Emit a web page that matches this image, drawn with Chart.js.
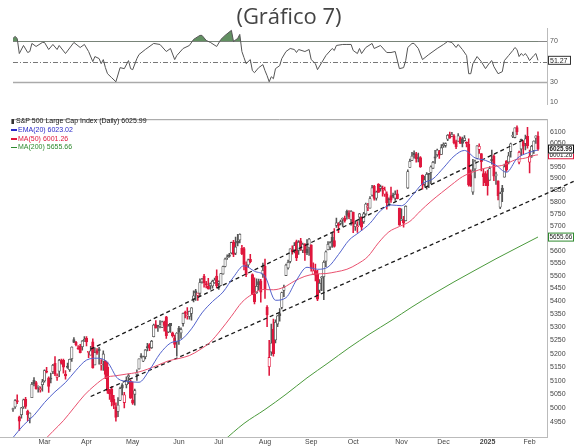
<!DOCTYPE html>
<html>
<head>
<meta charset="utf-8">
<script src="https://cdn.jsdelivr.net/npm/chart.js@4.4.1/dist/chart.umd.min.js"></script>
<style>
  html, body { margin: 0; padding: 0; background: #fff; }
  #wrap { position: relative; width: 574px; height: 446px; overflow: hidden; background: #fff;
          font-family: "Liberation Sans", Arial, sans-serif; }
  canvas { position: absolute; left: 0; }
  #rsi { top: 0; }
  #main { top: 112px; }
  #title { position: absolute; left: 0; top: 0px; width: 578px; text-align: center;
           font: 22px "Open Sans", sans-serif; color: #444; }
  .lg { position: absolute; left: 11px; font-size: 7px; line-height: 8px; white-space: nowrap; }
  .dash { display: inline-block; width: 6px; height: 1.5px; vertical-align: middle; margin-right: 1px; }
  .icon { display: inline-block; width: 2px; height: 5px; background: #333; vertical-align: middle; margin-right: 2px; border-left: 1px solid #888; }
</style>
</head>
<body>
<div id="wrap">
  <canvas id="rsi" width="574" height="112"></canvas>
  <canvas id="main" width="574" height="334"></canvas>
  <div id="title">(Gráfico 7)</div>
  <div id="legend"></div>
</div>
<script>
// daily candles, 8 Feb 2024 .. 7 Feb 2025 (index = trading day)
const opens = [4995,5004,5027,4968,4976,5004,5032,4989,4964,5038,
  5101,5093,5075,5067,5085,5099,5131,5110,5109,5133,
  5164,5112,5135,5174,5175,5124,5154,5140,5181,5253,
  5243,5220,5228,5226,5249,5258,5205,5194,5245,5158,
  5212,5218,5158,5172,5172,5150,5065,5068,5032,5005,
  4988,5028,5085,5020,5085,5115,5098,5030,5050,5123,
  5143,5188,5172,5189,5226,5234,5222,5264,5310,5303,
  5305,5299,5319,5340,5282,5315,5279,5260,5244,5297,
  5278,5314,5357,5343,5341,5353,5409,5441,5423,5431,
  5476,5499,5466,5459,5461,5460,5473,5499,5471,5462,
  5507,5537,5572,5584,5591,5635,5590,5638,5644,5610,
  5609,5544,5543,5566,5505,5429,5433,5477,5479,5506,
  5538,5377,5151,5206,5293,5252,5312,5352,5376,5442,
  5501,5531,5557,5603,5603,5637,5602,5640,5602,5627,
  5607,5612,5624,5506,5521,5507,5443,5491,5496,5558,
  5604,5616,5655,5641,5703,5709,5712,5728,5733,5762,
  5755,5727,5758,5698,5698,5737,5737,5719,5751,5778,
  5775,5829,5867,5816,5875,5859,5858,5833,5835,5814,
  5827,5831,5816,5835,5775,5723,5725,5723,5859,5947,
  5977,6009,6004,5986,5989,5913,5876,5864,5917,5925,
  5943,5992,6001,6015,6003,6040,6042,6069,6089,6081,
  6084,6058,6060,6075,6069,6063,6053,6047,5912,5842,
  5940,5985,6024,6006,5920,5920,5903,5892,5982,5994,
  5910,5890,5779,5859,5905,5975,5970,6015,6081,6076,
  6120,5969,6026,6058,6050,6082,5969,5998,6020,6073,
  6083];
const highs = [5000,5031,5048,4971,5003,5033,5039,4993,4983,5094,
  5111,5097,5081,5077,5105,5140,5149,5114,5128,5160,
  5189,5125,5179,5180,5180,5137,5165,5180,5226,5261,
  5246,5230,5235,5249,5264,5264,5208,5228,5256,5222,
  5219,5224,5178,5211,5175,5169,5068,5078,5046,5019,
  5038,5076,5089,5057,5114,5124,5102,5096,5069,5140,
  5181,5200,5191,5215,5239,5238,5250,5312,5325,5305,
  5325,5324,5324,5342,5311,5315,5282,5270,5280,5303,
  5298,5354,5362,5376,5362,5376,5441,5447,5432,5488,
  5490,5506,5478,5490,5472,5483,5491,5524,5480,5510,
  5539,5571,5584,5590,5635,5642,5656,5667,5669,5622,
  5614,5556,5567,5586,5508,5492,5488,5487,5486,5551,
  5567,5383,5250,5312,5331,5328,5345,5372,5436,5463,
  5547,5563,5608,5620,5633,5643,5641,5651,5631,5629,
  5646,5651,5624,5552,5547,5522,5485,5497,5560,5600,
  5637,5637,5671,5690,5734,5715,5725,5735,5742,5767,
  5765,5765,5758,5720,5719,5753,5739,5757,5796,5795,
  5823,5871,5871,5846,5878,5872,5867,5863,5843,5818,
  5863,5838,5847,5850,5775,5772,5741,5784,5936,5983,
  6012,6018,6012,6009,5993,5915,5910,5925,5920,5954,
  5973,6020,6026,6020,6045,6053,6053,6089,6100,6099,
  6089,6065,6093,6079,6078,6085,6057,6070,5936,5982,
  5978,6041,6049,6006,5940,5929,5935,5950,6021,6001,
  5927,5890,5842,5871,5961,5976,6012,6052,6100,6119,
  6128,6017,6069,6063,6087,6121,6022,6042,6062,6084,
  6101];
const lows = [4988,4999,5016,4920,4964,4999,4999,4955,4947,5038,
  5081,5069,5058,5058,5061,5094,5128,5057,5092,5126,
  5118,5101,5115,5161,5127,5105,5145,5134,5171,5241,
  5229,5216,5203,5213,5246,5229,5185,5194,5146,5158,
  5197,5161,5139,5138,5107,5053,5031,5008,4998,4953,
  4969,5027,5048,5001,5073,5089,5035,5013,5011,5101,
  5142,5183,5170,5180,5210,5211,5220,5263,5296,5284,
  5297,5298,5285,5257,5279,5280,5262,5223,5191,5235,
  5257,5304,5336,5331,5331,5327,5398,5403,5403,5421,
  5471,5455,5452,5447,5446,5451,5470,5452,5446,5462,
  5507,5535,5565,5574,5587,5576,5584,5620,5632,5584,
  5523,5497,5535,5551,5426,5390,5431,5444,5397,5494,
  5411,5302,5119,5193,5191,5240,5302,5323,5370,5418,
  5501,5526,5551,5586,5592,5560,5585,5602,5593,5561,
  5584,5581,5518,5505,5480,5402,5434,5441,5406,5536,
  5604,5605,5614,5615,5695,5674,5705,5699,5717,5729,
  5731,5704,5674,5683,5675,5704,5684,5712,5745,5764,
  5775,5825,5808,5808,5841,5846,5825,5824,5771,5784,
  5799,5818,5807,5813,5703,5723,5696,5722,5858,5947,
  5976,5987,5969,5970,5947,5854,5866,5854,5861,5878,
  5943,5964,5994,5985,6003,6033,6034,6062,6072,6080,
  6048,6028,6059,6051,6035,6060,6035,5867,5866,5832,
  5902,5983,6007,5932,5869,5869,5829,5891,5961,5890,
  5874,5809,5773,5802,5905,5930,5962,5991,6076,6074,
  6089,5962,6000,6003,6022,6030,5923,5990,6007,6051,
  6020];
const closes = [4998,5027,5022,4953,5001,5030,5006,4976,4982,5087,
  5089,5070,5078,5070,5096,5137,5131,5079,5105,5157,
  5124,5118,5175,5165,5150,5117,5149,5179,5225,5242,
  5234,5218,5204,5248,5254,5244,5206,5211,5147,5204,
  5202,5210,5161,5199,5123,5062,5051,5022,5011,4967,
  5011,5071,5072,5048,5100,5116,5036,5018,5064,5128,
  5181,5188,5188,5214,5223,5221,5247,5308,5297,5303,
  5308,5321,5307,5268,5305,5306,5267,5235,5278,5283,
  5291,5354,5353,5347,5361,5375,5421,5434,5432,5473,
  5487,5473,5465,5448,5469,5478,5483,5460,5475,5509,
  5537,5567,5573,5577,5634,5585,5615,5631,5667,5588,
  5545,5505,5564,5556,5427,5399,5459,5464,5436,5522,
  5447,5347,5186,5240,5200,5319,5344,5344,5434,5455,
  5543,5554,5608,5597,5621,5571,5635,5617,5626,5592,
  5592,5648,5529,5520,5503,5408,5471,5496,5554,5596,
  5626,5633,5635,5618,5714,5703,5719,5733,5722,5745,
  5738,5762,5709,5710,5700,5751,5696,5751,5792,5780,
  5815,5860,5815,5842,5841,5865,5854,5851,5797,5810,
  5808,5824,5833,5814,5705,5729,5713,5783,5929,5973,
  5996,6001,5984,5985,5949,5871,5894,5917,5917,5949,
  5969,5987,6022,5999,6032,6047,6050,6086,6075,6090,
  6053,6035,6084,6051,6051,6074,6051,5872,5867,5931,
  5974,6040,6038,5971,5907,5882,5869,5942,5975,5909,
  5918,5827,5836,5843,5950,5937,5997,6049,6086,6119,
  6101,6012,6068,6039,6071,6041,5995,6038,6061,6084,
  6026];

// moving averages (day index, value)
const emaIdx = [0,5,10,15,20,25,30,35,40,45,50,55,60,65,70,75,80,85,90,95,100,105,110,115,120,125,
  130,135,140,145,150,155,160,165,170,175,180,185,190,195,200,205,210,215,220,225,230,235,240,245,250];
const ema20 = [4895,4939,4974,5020,5059,5093,5138,5176,5183,5168,5107,5097,5094,5139,5200,5240,5252,5294,5355,5399,5436,5495,5540,5518,5498,5404,
  5414,5483,5534,5526,5535,5585,5643,5676,5712,5764,5788,5785,5826,5878,5898,5945,5995,6020,5988,5977,5956,5926,5985,6009,6022];
const ma50Idx = [4,9,14,19,24,29,34,39,44,49,54,59,64,69,74,79,84,89,94,99,104,109,114,119,124,129,
  134,139,144,149,154,159,164,169,174,179,184,189,194,199,204,209,214,219,224,229,234,239,244,249,250];
const ma50 = [4795,4839,4879,4917,4955,5001,5047,5083,5111,5118,5124,5130,5142,5157,5173,5182,5193,5215,5244,5290,5342,5396,5428,5446,5445,5455,
  5479,5498,5507,5509,5516,5526,5547,5577,5632,5677,5699,5720,5763,5803,5839,5874,5907,5927,5942,5950,5958,5979,5987,6000,6001];
const ma200Idx = [100,110,120,130,140,150,160,170,180,190,200,210,220,230,240,250];
const ma200 = [4882,4945,4995,5050,5110,5165,5222,5275,5325,5378,5428,5476,5522,5568,5612,5656];

// channel lines (day index, price)
const upperLine = [[37, 5217], [244, 6070]];
const lowerLine = [[37, 5042], [267, 5887]];

// RSI(14)
const rsiIdx = [0,1,2,3,5,7,8,9,11,14, 15,17,19,21,22,25,29,32,34,36, 38,39,41,42,43,44,45,47,49,51,
  53,55,56,57,59,60,63,67,70,73, 75,77,78,81,84,86,89,90,92,94, 97,99,101,104,105,107,108,109,110,111,
  113,114,115,117,119,120,121,122,123,124, 125,127,128,130,132,134,135,136,139,141, 142,144,145,147,149,152,153,154,157,159,
  161,162,164,165,166,168,171,172,175,178, 180,182,184,186,187,188,190,191,193,195, 198,202,205,207,209,211,212,214,216,217,
  218,219,221,223,225,227,228,229,231,233, 234,236,238,239,240,241,242,243,244,245, 246,248,249,250];
const rsiVal = [73,75,73,58,66,59,60,68,65,69, 69,62,67,62,66,58,69,64,67,60, 50,55,53,48,52,44,38,34,30,44,
  43,51,43,42,53,57,62,68,67,60, 63,52,56,63,66,72,76,76,71,69, 65,72,76,81,70,73,77,60,54,48,
  52,41,39,44,47,41,36,30,35,33, 43,46,53,60,63,62,59,62,60,62, 52,48,42,49,56,63,61,66,67,67,
  67,61,58,63,58,64,68,63,66,59, 59,60,43,44,51,64,68,68,63,52, 57,63,67,70,69,64,67,62,56,38,
  38,48,55,50,43,49,51,45,38,40, 51,56,61,64,62,55,58,56,58,55, 51,56,58,51.27];
const rsiLevels = [70, 50, 30];
const rsiTicks = [10, 30, 70];

// axes
const monthStart = [15, 35, 57, 79, 98, 120, 142, 162, 185, 205, 226, 246];
const monthLabels = ['Mar','Apr','May','Jun','Jul','Aug','Sep','Oct','Nov','Dec','2025','Feb'];
const priceTicks = [4950,5000,5050,5100,5150,5200,5250,5300,5350,5400,5450,5500,5550,5600,
  5650,5700,5750,5800,5850,5900,5950,6000,6050,6100];

// legend
const legendNames = ['S&P 500 Large Cap Index (Daily)', 'EMA(20)', 'MA(50)', 'MA(200)'];
const legendValues = ['6025.99', '6023.02', '6001.26', '5655.66'];
const legendColors = ['#111', '#2a2ac8', '#e0173d', '#2e8a2e'];

Chart.defaults.font.family = '"Liberation Sans", Arial, sans-serif';
Chart.defaults.color = '#444';

const X_MIN = -6.19, X_MAX = 254.29;
const AXIS_W = 27;

// legend text
const lg = document.getElementById('legend');
legendNames.forEach((name, i) => {
  const d = document.createElement('div');
  d.className = 'lg';
  d.style.top = (117 + i * 8.8) + 'px';
  d.style.color = legendColors[i];
  const mark = i === 0 ? '<span class="icon"></span>' :
    '<span class="dash" style="background:' + legendColors[i] + '"></span>';
  d.innerHTML = mark + name + ' ' + legendValues[i];
  lg.appendChild(d);
});

const pts = (xs, ys) => xs.map((x, i) => ({x, y: ys[i]}));

// ---------- RSI panel ----------
const rsiDeco = {
  id: 'rsiDeco',
  beforeDatasetsDraw(chart) {
    const {ctx, chartArea: a, scales: {x, y}} = chart;
    const x0 = x.getPixelForValue(0);
    ctx.save();
    rsiLevels.forEach(lv => {
      const py = Math.round(y.getPixelForValue(lv)) + 0.5;
      ctx.beginPath();
      ctx.strokeStyle = lv === 50 ? '#777' : (lv === 30 ? '#aaa' : '#888');
      ctx.lineWidth = lv === 30 ? 1.5 : 1;
      ctx.setLineDash(lv === 50 ? [5, 2, 1, 2] : []);
      ctx.moveTo(x0, py);
      ctx.lineTo(a.right, py);
      ctx.stroke();
    });
    ctx.restore();
  },
  afterDraw(chart) {
    const {ctx, chartArea: a, scales: {y}} = chart;
    const v = rsiVal[rsiVal.length - 1];
    const py = y.getPixelForValue(v);
    ctx.save();
    ctx.fillStyle = '#fff';
    ctx.fillRect(a.right + 1, py - 4.5, 23, 9);
    ctx.strokeStyle = '#333';
    ctx.lineWidth = 1;
    ctx.strokeRect(a.right + 1.5, py - 4, 22, 8);
    ctx.fillStyle = '#222';
    ctx.font = '7px "Liberation Sans", Arial, sans-serif';
    ctx.textBaseline = 'middle';
    ctx.fillText(v.toFixed(2), a.right + 3, py + 0.5);
    ctx.restore();
  }
};

new Chart(document.getElementById('rsi'), {
  type: 'line',
  data: {
    datasets: [{
      data: pts(rsiIdx, rsiVal),
      borderColor: '#555',
      borderWidth: 1,
      pointRadius: 0,
      fill: {target: {value: 70}, above: 'rgba(70,125,70,0.85)', below: 'rgba(0,0,0,0)'}
    }]
  },
  options: {
    responsive: false,
    animation: false,
    layout: {padding: {top: 28, bottom: 4, left: 0, right: 0}},
    plugins: {legend: {display: false}, tooltip: {enabled: false}},
    scales: {
      x: {type: 'linear', min: X_MIN, max: X_MAX, display: false},
      y: {
        position: 'right', min: 7.14, max: 83.33,
        afterBuildTicks: s => { s.ticks = rsiTicks.map(v => ({value: v})); },
        afterFit: s => { s.width = AXIS_W; },
        grid: {display: false, drawTicks: false},
        border: {display: true, color: '#bbb', dash: [1, 2]},
        ticks: {font: {size: 7}, color: '#555', padding: 3, autoSkip: false, callback: v => v}
      }
    }
  },
  plugins: [rsiDeco]
});

// ---------- price panel ----------
const candleCol = closes.map((c, i) => c >= (i ? closes[i - 1] : opens[i]) ? '#555' : '#e0173d');
const bodyFill = closes.map((c, i) => c > opens[i] ? '#fff' : candleCol[i]);

const boxes = [
  {v: parseFloat(legendValues[3]), t: legendValues[3], c: '#2e8a2e', bold: false},
  {v: parseFloat(legendValues[2]), t: legendValues[2], c: '#e0173d', bold: false},
  {v: parseFloat(legendValues[0]), t: legendValues[0], c: '#111', bold: true}
];

const mainDeco = {
  id: 'mainDeco',
  beforeDatasetsDraw(chart) {
    const {ctx, chartArea: a} = chart;
    ctx.save();
    ctx.strokeStyle = '#999';
    ctx.lineWidth = 1;
    ctx.beginPath();
    ctx.moveTo(12, a.top + 0.5);
    ctx.lineTo(a.right, a.top + 0.5);
    ctx.stroke();
    ctx.restore();
  },
  afterDraw(chart) {
    const {ctx, chartArea: a, scales: {y}} = chart;
    ctx.save();
    boxes.forEach(b => {
      const py = y.getPixelForValue(b.v);
      ctx.fillStyle = '#fff';
      ctx.fillRect(a.right + 1, py - 4.5, 26, 9);
      ctx.strokeStyle = b.c;
      ctx.lineWidth = 1;
      ctx.strokeRect(a.right + 1.5, py - 4, 25, 8);
      ctx.fillStyle = '#222';
      ctx.font = (b.bold ? 'bold ' : '') + '6.3px "Liberation Sans", Arial, sans-serif';
      ctx.textBaseline = 'middle';
      ctx.fillText(b.t, a.right + 2.5, py + 0.5);
    });
    ctx.restore();
  }
};

const lineDs = (data, color) => ({
  type: 'line', data, borderColor: color, borderWidth: 1, pointRadius: 0,
  cubicInterpolationMode: 'monotone', fill: false, order: 0
});
const trendDs = seg => ({
  type: 'line', data: seg.map(p => ({x: p[0], y: p[1]})), borderColor: '#1a1a1a',
  borderWidth: 1.3, borderDash: [4, 3], pointRadius: 0, fill: false, clip: false, order: 0
});

new Chart(document.getElementById('main'), {
  type: 'line',
  data: {
    datasets: [
      lineDs(pts(emaIdx, ema20), '#5262cc'),
      lineDs(pts(ma50Idx, ma50), '#e9506e'),
      lineDs(pts(ma200Idx, ma200), '#4b9a3c'),
      trendDs(upperLine),
      trendDs(lowerLine),
      {
        type: 'bar',
        data: closes.map((c, i) => ({x: i, y: [opens[i], c]})),
        backgroundColor: bodyFill, borderColor: candleCol, borderWidth: 0.8,
        borderSkipped: false, barThickness: 2.5, grouped: false, minBarLength: 1, order: 1
      },
      {
        type: 'bar',
        data: highs.map((h, i) => ({x: i, y: [lows[i], h]})),
        backgroundColor: candleCol, borderWidth: 0, barThickness: 0.9, grouped: false, order: 2
      }
    ]
  },
  options: {
    responsive: false,
    animation: false,
    layout: {padding: {top: 3, bottom: 0, left: 0, right: 0}},
    plugins: {legend: {display: false}, tooltip: {enabled: false}},
    scales: {
      x: {
        type: 'linear', min: X_MIN, max: X_MAX, offset: false,
        afterBuildTicks: s => { s.ticks = monthStart.map(v => ({value: v})); },
        afterFit: s => { s.height = 9; },
        grid: {display: false, drawTicks: false},
        border: {display: true, color: '#bbb', dash: [1, 2]},
        ticks: {
          padding: 1, autoSkip: false, maxRotation: 0, color: '#444',
          font: ctx => ({size: 7, weight: monthLabels[ctx.index] === '2025' ? 'bold' : 'normal'}),
          callback: (v, i) => monthLabels[i]
        }
      },
      y: {
        type: 'logarithmic', position: 'right', min: 4897, max: 6157, beginAtZero: false,
        afterBuildTicks: s => { s.ticks = priceTicks.map(v => ({value: v})); },
        afterFit: s => { s.width = AXIS_W; },
        grid: {display: false, drawTicks: false},
        border: {display: true, color: '#bbb', dash: [1, 2]},
        ticks: {font: {size: 7}, color: '#444', padding: 3, autoSkip: false, callback: v => v}
      }
    }
  },
  plugins: [mainDeco]
});
</script>
</body>
</html>
